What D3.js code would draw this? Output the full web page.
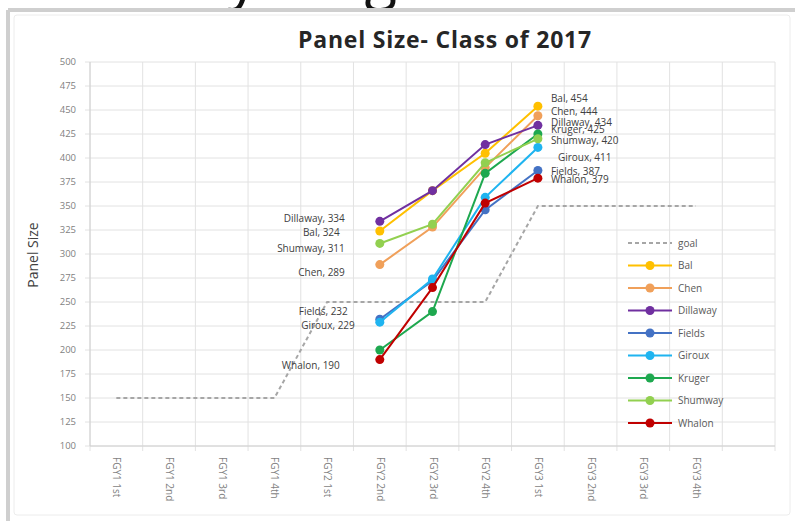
<!DOCTYPE html>
<html>
<head>
<meta charset="utf-8">
<script src="https://cdn.jsdelivr.net/npm/d3@7"></script>
<style>
  body { margin: 0; background: #fff; }
  svg { display: block; font-family: "Open Sans", sans-serif; }
</style>
</head>
<body>
<div id="chart"></div>
<script>
// categories along the x axis (last slot is an empty band)
var quarters = ['FGY1 1st','FGY1 2nd','FGY1 3rd','FGY1 4th',
                'FGY2 1st','FGY2 2nd','FGY2 3rd','FGY2 4th',
                'FGY3 1st','FGY3 2nd','FGY3 3rd','FGY3 4th',''];
var yTicks = [100,125,150,175,200,225,250,275,300,325,350,375,400,425,450,475,500];

var goal = [150,150,150,150,250,250,250,250,350,350,350,350];

// provider panels, measured FGY2 2nd .. FGY3 1st
var firstIdx = 5;
var names = ['Bal','Chen','Dillaway','Fields','Giroux','Kruger','Shumway','Whalon'];
var bal      = [324, 366, 405, 454];
var chen     = [289, 328, 390, 444];
var dillaway = [334, 366, 414, 434];
var fields   = [232, 272, 346, 387];
var giroux   = [229, 274, 359, 411];
var kruger   = [200, 240, 384, 425];
var shumway  = [311, 331, 395, 420];
var whalon   = [190, 265, 353, 379];
var seriesVals = [bal, chen, dillaway, fields, giroux, kruger, shumway, whalon];

var colors = ['#ffc000','#f0a05a','#7030a0','#4472c4','#1fb4f0','#1ea84f','#92d050','#c00000'];

var W = 795, H = 521;
var svg = d3.select('#chart').append('svg')
            .attr('width', W).attr('height', H);

// cut-off slide heading above the chart frame
var head = svg.append('text')
  .attr('x', 0).attr('y', -2)
  .style('font-size', '60px')
  .style('fill', '#111')
  .text('Primary Targets');
var yStart = head.node().getStartPositionOfChar(6).x;
head.attr('x', 228 - yStart);

// frame
svg.append('line').attr('x1', 8).attr('x2', W).attr('y1', 10).attr('y2', 10)
  .style('stroke', '#cfcfcf').style('stroke-width', 4);
svg.append('line').attr('x1', 8).attr('x2', 8).attr('y1', 10).attr('y2', H)
  .style('stroke', '#cfcfcf').style('stroke-width', 4);
svg.append('rect').attr('x', 14).attr('y', 15).attr('width', 776).attr('height', 500)
  .attr('rx', 3)
  .style('fill', '#fff').style('stroke', '#ececec').style('stroke-width', 1);

var x = d3.scaleBand().domain(d3.range(quarters.length)).range([90, 775]);
var y = d3.scaleLinear().domain([100, 500]).range([446, 62]);
var xc = function(i){ return x(i) + x.bandwidth() / 2; };

// grid
var grid = svg.append('g');
grid.selectAll('.hg').data(yTicks).enter().append('line')
  .attr('x1', 85).attr('x2', 775)
  .attr('y1', function(d){ return y(d); }).attr('y2', function(d){ return y(d); })
  .style('stroke', '#e2e2e2').style('stroke-width', 1);
grid.selectAll('.vg').data(d3.range(quarters.length + 1)).enter().append('line')
  .attr('x1', function(i){ return 90 + i * x.step(); })
  .attr('x2', function(i){ return 90 + i * x.step(); })
  .attr('y1', 62).attr('y2', 451)
  .style('stroke', '#e2e2e2').style('stroke-width', 1);
svg.append('line').attr('x1', 90).attr('x2', 90).attr('y1', 62).attr('y2', 446)
  .style('stroke', '#d0d0d0');
svg.append('line').attr('x1', 90).attr('x2', 775).attr('y1', 446).attr('y2', 446)
  .style('stroke', '#d0d0d0');

// y tick labels
svg.append('g').selectAll('text').data(yTicks).enter().append('text')
  .attr('x', 76).attr('y', function(d){ return y(d); })
  .attr('dy', '0.35em').attr('text-anchor', 'end')
  .style('font-size', '9.5px').style('fill', '#7f7f7f')
  .text(function(d){ return d; });

// x tick labels, rotated
svg.append('g').selectAll('text').data(quarters).enter().append('text')
  .attr('transform', function(d, i){ return 'translate(' + (xc(i) - 3) + ',457) rotate(90)'; })
  .style('font-size', '10px').style('fill', '#7f7f7f')
  .text(function(d){ return d; });

// titles
svg.append('text').attr('x', 445).attr('y', 48).attr('text-anchor', 'middle')
  .style('font-size', '23px').style('font-weight', 'bold').style('fill', '#262626')
  .style('letter-spacing', '0.8px')
  .text('Panel Size- Class of 2017');
svg.append('text').attr('transform', 'translate(38,255) rotate(-90)')
  .attr('text-anchor', 'middle')
  .style('font-size', '14px').style('fill', '#404040')
  .text('Panel Size');

// goal line
var line = d3.line()
  .x(function(d){ return xc(d.i); })
  .y(function(d){ return y(d.v); });
svg.append('path')
  .datum(goal.map(function(v, i){ return {i: i, v: v}; }))
  .attr('d', line)
  .style('fill', 'none').style('stroke', '#a6a6a6')
  .style('stroke-width', 2).style('stroke-dasharray', '4,3');

// provider series
var series = names.map(function(n, k){
  return { name: n, color: colors[k],
           pts: seriesVals[k].map(function(v, j){ return {i: firstIdx + j, v: v}; }) };
});
var sg = svg.selectAll('.series').data(series).enter().append('g');
sg.append('path')
  .attr('d', function(d){ return line(d.pts); })
  .style('fill', 'none').style('stroke', function(d){ return d.color; })
  .style('stroke-width', 2);
sg.selectAll('circle').data(function(d){ return d.pts.map(function(p){ return {p: p, c: d.color}; }); })
  .enter().append('circle')
  .attr('cx', function(d){ return xc(d.p.i); })
  .attr('cy', function(d){ return y(d.p.v); })
  .attr('r', 4.5)
  .style('fill', function(d){ return d.c; });

// data labels (nudged to avoid overlap)
var leftNudge  = {Bal: [-40, 2], Chen: [-35, 8], Dillaway: [-35, -3], Fields: [-32, -8],
                  Giroux: [-25, 3], Shumway: [-35, 5], Whalon: [-40, 6]};
var rightNudge = {Bal: [13, -8], Chen: [13, -4], Dillaway: [13, -3], Kruger: [13, -5],
                  Shumway: [13, 2], Giroux: [20, 10], Fields: [13, 1], Whalon: [13, 1]};
series.forEach(function(s){
  var a = s.pts[0], b = s.pts[s.pts.length - 1];
  if (leftNudge[s.name]) {
    svg.append('text')
      .attr('x', xc(a.i) + leftNudge[s.name][0])
      .attr('y', y(a.v) + leftNudge[s.name][1])
      .attr('dy', '0.35em').attr('text-anchor', 'end')
      .style('font-size', '10px').style('fill', '#404040')
      .text(s.name + ', ' + a.v);
  }
  svg.append('text')
    .attr('x', xc(b.i) + rightNudge[s.name][0])
    .attr('y', y(b.v) + rightNudge[s.name][1])
    .attr('dy', '0.35em')
    .style('font-size', '10px').style('fill', '#404040')
    .text(s.name + ', ' + b.v);
});

// legend
var legendItems = [{name: 'goal', color: '#a6a6a6', dash: true}].concat(series);
var lg = svg.append('g').selectAll('g').data(legendItems).enter().append('g')
  .attr('transform', function(d, i){ return 'translate(628,' + (243 + i * 22.5) + ')'; });
lg.append('line').attr('x1', 0).attr('x2', 44)
  .style('stroke', function(d){ return d.color; })
  .style('stroke-width', 2)
  .style('stroke-dasharray', function(d){ return d.dash ? '4,3' : null; });
lg.filter(function(d){ return !d.dash; }).append('circle')
  .attr('cx', 22).attr('r', 4.5)
  .style('fill', function(d){ return d.color; });
lg.append('text').attr('x', 50).attr('dy', '0.35em')
  .style('font-size', '10px').style('fill', '#595959')
  .text(function(d){ return d.name; });
</script>
</body>
</html>
